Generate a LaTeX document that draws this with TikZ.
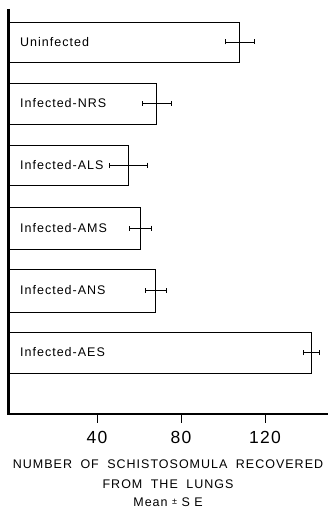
\documentclass[tikz,border=0pt]{standalone}
\usepackage{fontspec}
\newfontfamily\lettering[LetterSpace=8]{Liberation Sans}
\usetikzlibrary{positioning,calc,arrows.meta}

\begin{document}
\begin{tikzpicture}[
x=1pt,y=-1pt,
bar/.style={
  draw,
  line width=0.9pt},
errbar/.style={
  line width=0.8pt,
  {Bar[width=5pt]}-{Bar[width=5pt]}},
barlabel/.style={
  anchor=west,
  inner sep=0pt,
  font=\lettering\fontsize{12.5}{14}\selectfont},
ticklabel/.style={
  inner sep=0pt,
  font=\lettering\fontsize{17.5}{19}\selectfont},
axlabel/.style={
  inner sep=0pt,
  font=\lettering\fontsize{12.5}{14}\selectfont}
]
\useasboundingbox (0,0) rectangle (328,513);
% bars: name/top/bottom/mean/SE/text
\foreach \Bar/\Top/\Bot/\Val/\Err/\Txt in {
  uninf/22/62/108/7/Uninfected,
  nrs/83/124/68.5/7/Infected-NRS,
  als/145/185/55/9.3/Infected-ALS,
  ams/207/249/60.5/5.5/Infected-AMS,
  ans/269/312/68/5/Infected-ANS,
  aes/332/373/142/4/Infected-AES}
{
  \draw[bar] (9,\Top) rectangle ({13+2.1*\Val},\Bot);
  \coordinate (\Bar) at ({13+2.1*\Val},{(\Top+\Bot)/2});
  \draw[errbar] ($ (\Bar) - ({2.1*\Err},0) $) -- ($ (\Bar) + ({2.1*\Err},0) $);
  \node[barlabel] (\Bar-txt) at (20,{(\Top+\Bot)/2}) {\Txt};
}
% axes
\draw[line width=3pt] (8.5,9) coordinate (top) -- (8.5,414) coordinate (O);
\draw[line width=2.5pt] (7,414) -- (328,414) coordinate (right);
\foreach \Val in {40,80,120}
{
  \draw[line width=0.9pt] ({13+2.1*\Val},414) -- ++(0,9);
  \node[ticklabel] (t\Val) at ({13+2.1*\Val},437) {\Val};
}
\node[axlabel] (title) at (168,464) {NUMBER\hspace{4pt} OF\hspace{4pt} SCHISTOSOMULA\hspace{4pt} RECOVERED};
\node[axlabel, below=11pt of title] (lungs) {FROM\hspace{4pt} THE\hspace{4pt} LUNGS};
\node[axlabel, below=9pt of lungs] (mean) {Mean \raisebox{2.5pt}{\fontsize{9}{9}\selectfont ±} S E};
\end{tikzpicture}
\end{document}
